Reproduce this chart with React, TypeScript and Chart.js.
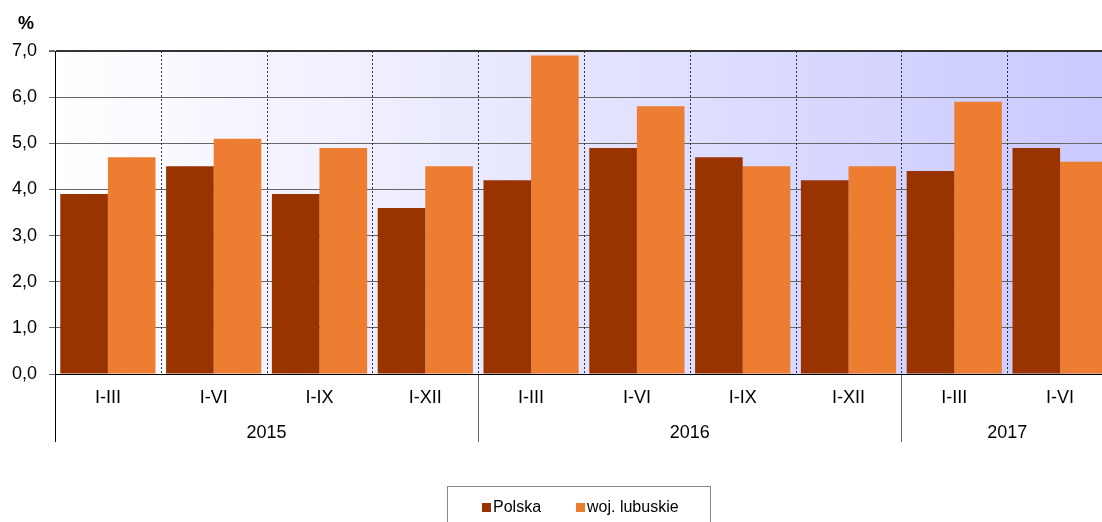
import React, { useEffect, useRef } from "react";
import { Chart, registerables } from "chart.js";

Chart.register(...registerables);

const periods = ["I-III", "I-VI", "I-IX", "I-XII", "I-III", "I-VI", "I-IX", "I-XII", "I-III", "I-VI"];
const years = ["2015", "2016", "2017"];
const yearStarts = [0, 4, 8];
const yearEnds = [3, 7, 9];
const polska = [3.9, 4.5, 3.9, 3.6, 4.2, 4.9, 4.7, 4.2, 4.4, 4.9];
const lubuskie = [4.7, 5.1, 4.9, 4.5, 6.9, 5.8, 4.5, 4.5, 5.9, 4.6];
const seriesNames = ["Polska", "woj. lubuskie"];
const seriesColors = ["#993300", "#ED7D31"];

const FONT = "Arial, 'Liberation Sans', sans-serif";

const decorPlugin = {
  id: "decor",
  beforeDraw(chart: any) {
    const { ctx, chartArea } = chart;
    const g = ctx.createLinearGradient(chartArea.left, 0, chartArea.right, 0);
    g.addColorStop(0, "#ffffff");
    g.addColorStop(1, "#c9c9ff");
    ctx.save();
    ctx.fillStyle = g;
    ctx.fillRect(chartArea.left, chartArea.top, chartArea.right - chartArea.left, chartArea.bottom - chartArea.top);
    ctx.restore();
  },
  beforeDatasetsDraw(chart: any) {
    const { ctx, chartArea } = chart;
    const n = periods.length;
    const w = (chartArea.right - chartArea.left) / n;
    ctx.save();
    ctx.strokeStyle = "#333333";
    ctx.lineWidth = 1;
    ctx.setLineDash([2, 2]);
    for (let i = 1; i < n; i++) {
      const x = Math.round(chartArea.left + i * w) + 0.5;
      ctx.beginPath();
      ctx.moveTo(x, chartArea.top);
      ctx.lineTo(x, chartArea.bottom);
      ctx.stroke();
    }
    ctx.restore();
  },
  afterDraw(chart: any) {
    const { ctx, chartArea } = chart;
    const xs = chart.scales.x;
    const n = periods.length;
    const w = (chartArea.right - chartArea.left) / n;
    ctx.save();
    // percent sign
    ctx.fillStyle = "#000";
    ctx.font = `bold 18px ${FONT}`;
    ctx.textAlign = "center";
    ctx.textBaseline = "middle";
    ctx.fillText("%", 26, 24);
    // period labels
    ctx.font = `18px ${FONT}`;
    periods.forEach((p, i) => {
      ctx.fillText(p, xs.getPixelForValue(i), 398);
    });
    // year labels
    years.forEach((y, k) => {
      const cx = (xs.getPixelForValue(yearStarts[k]) + xs.getPixelForValue(yearEnds[k])) / 2;
      ctx.fillText(y, cx, 433);
    });
    // group separators
    yearStarts.forEach((s, k) => {
      const x = Math.round(chartArea.left + s * w) + 0.5;
      ctx.strokeStyle = k === 0 ? "#000" : "#666";
      ctx.lineWidth = 1;
      ctx.beginPath();
      ctx.moveTo(x, chartArea.bottom);
      ctx.lineTo(x, 442);
      ctx.stroke();
    });
    // x axis line
    ctx.strokeStyle = "#000";
    ctx.beginPath();
    ctx.moveTo(chartArea.left, chartArea.bottom + 0.5);
    ctx.lineTo(chartArea.right, chartArea.bottom + 0.5);
    ctx.stroke();
    // legend
    ctx.strokeStyle = "#888";
    ctx.strokeRect(447.5, 486.5, 263, 50);
    ctx.font = `16px ${FONT}`;
    ctx.textAlign = "left";
    ctx.textBaseline = "middle";
    const items = [
      { sx: 482, tx: 493 },
      { sx: 576, tx: 587 },
    ];
    items.forEach((it, i) => {
      ctx.fillStyle = seriesColors[i];
      ctx.fillRect(it.sx, 503, 9, 9);
      ctx.fillStyle = "#000";
      ctx.fillText(seriesNames[i], it.tx, 508);
    });
    ctx.restore();
  },
};

export default function App() {
  const ref = useRef<HTMLCanvasElement | null>(null);
  useEffect(() => {
    if (!ref.current) return;
    const chart = new Chart(ref.current, {
      type: "bar",
      data: {
        labels: periods,
        datasets: [
          { label: seriesNames[0], data: polska, backgroundColor: seriesColors[0], borderWidth: 0 },
          { label: seriesNames[1], data: lubuskie, backgroundColor: seriesColors[1], borderWidth: 0 },
        ],
      },
      options: {
        animation: false,
        responsive: false,
        devicePixelRatio: 1,
        layout: { padding: { top: 51, bottom: 148, left: 0, right: 0 } },
        datasets: { bar: { categoryPercentage: 0.9, barPercentage: 1.0 } },
        plugins: { legend: { display: false }, tooltip: { enabled: false } },
        scales: {
          x: { display: false },
          y: {
            min: 0,
            max: 7,
            afterFit(scale: any) {
              scale.width = 55;
            },
            ticks: {
              stepSize: 1,
              padding: 12,
              color: "#000",
              font: { family: FONT, size: 18 },
              callback: (v: any) => Number(v).toFixed(1).replace(".", ","),
            },
            grid: {
              color: (c: any) => (c.tick && c.tick.value === 7 ? "#333333" : c.tick && c.tick.value === 0 ? "#000" : "#666666"),
              lineWidth: (c: any) => (c.tick && c.tick.value === 7 ? 2 : 1),
              tickLength: 6,
              tickColor: "#666",
            },
            border: { color: "#000", width: 1 },
          },
        },
      },
      plugins: [decorPlugin],
    });
    return () => chart.destroy();
  }, []);
  return (
    <div style={{ position: "fixed", left: 0, top: 0, width: 1102, height: 522, overflow: "hidden", background: "#fff" }}>
      <canvas ref={ref} width={1113} height={522} style={{ display: "block" }} />
    </div>
  );
}
